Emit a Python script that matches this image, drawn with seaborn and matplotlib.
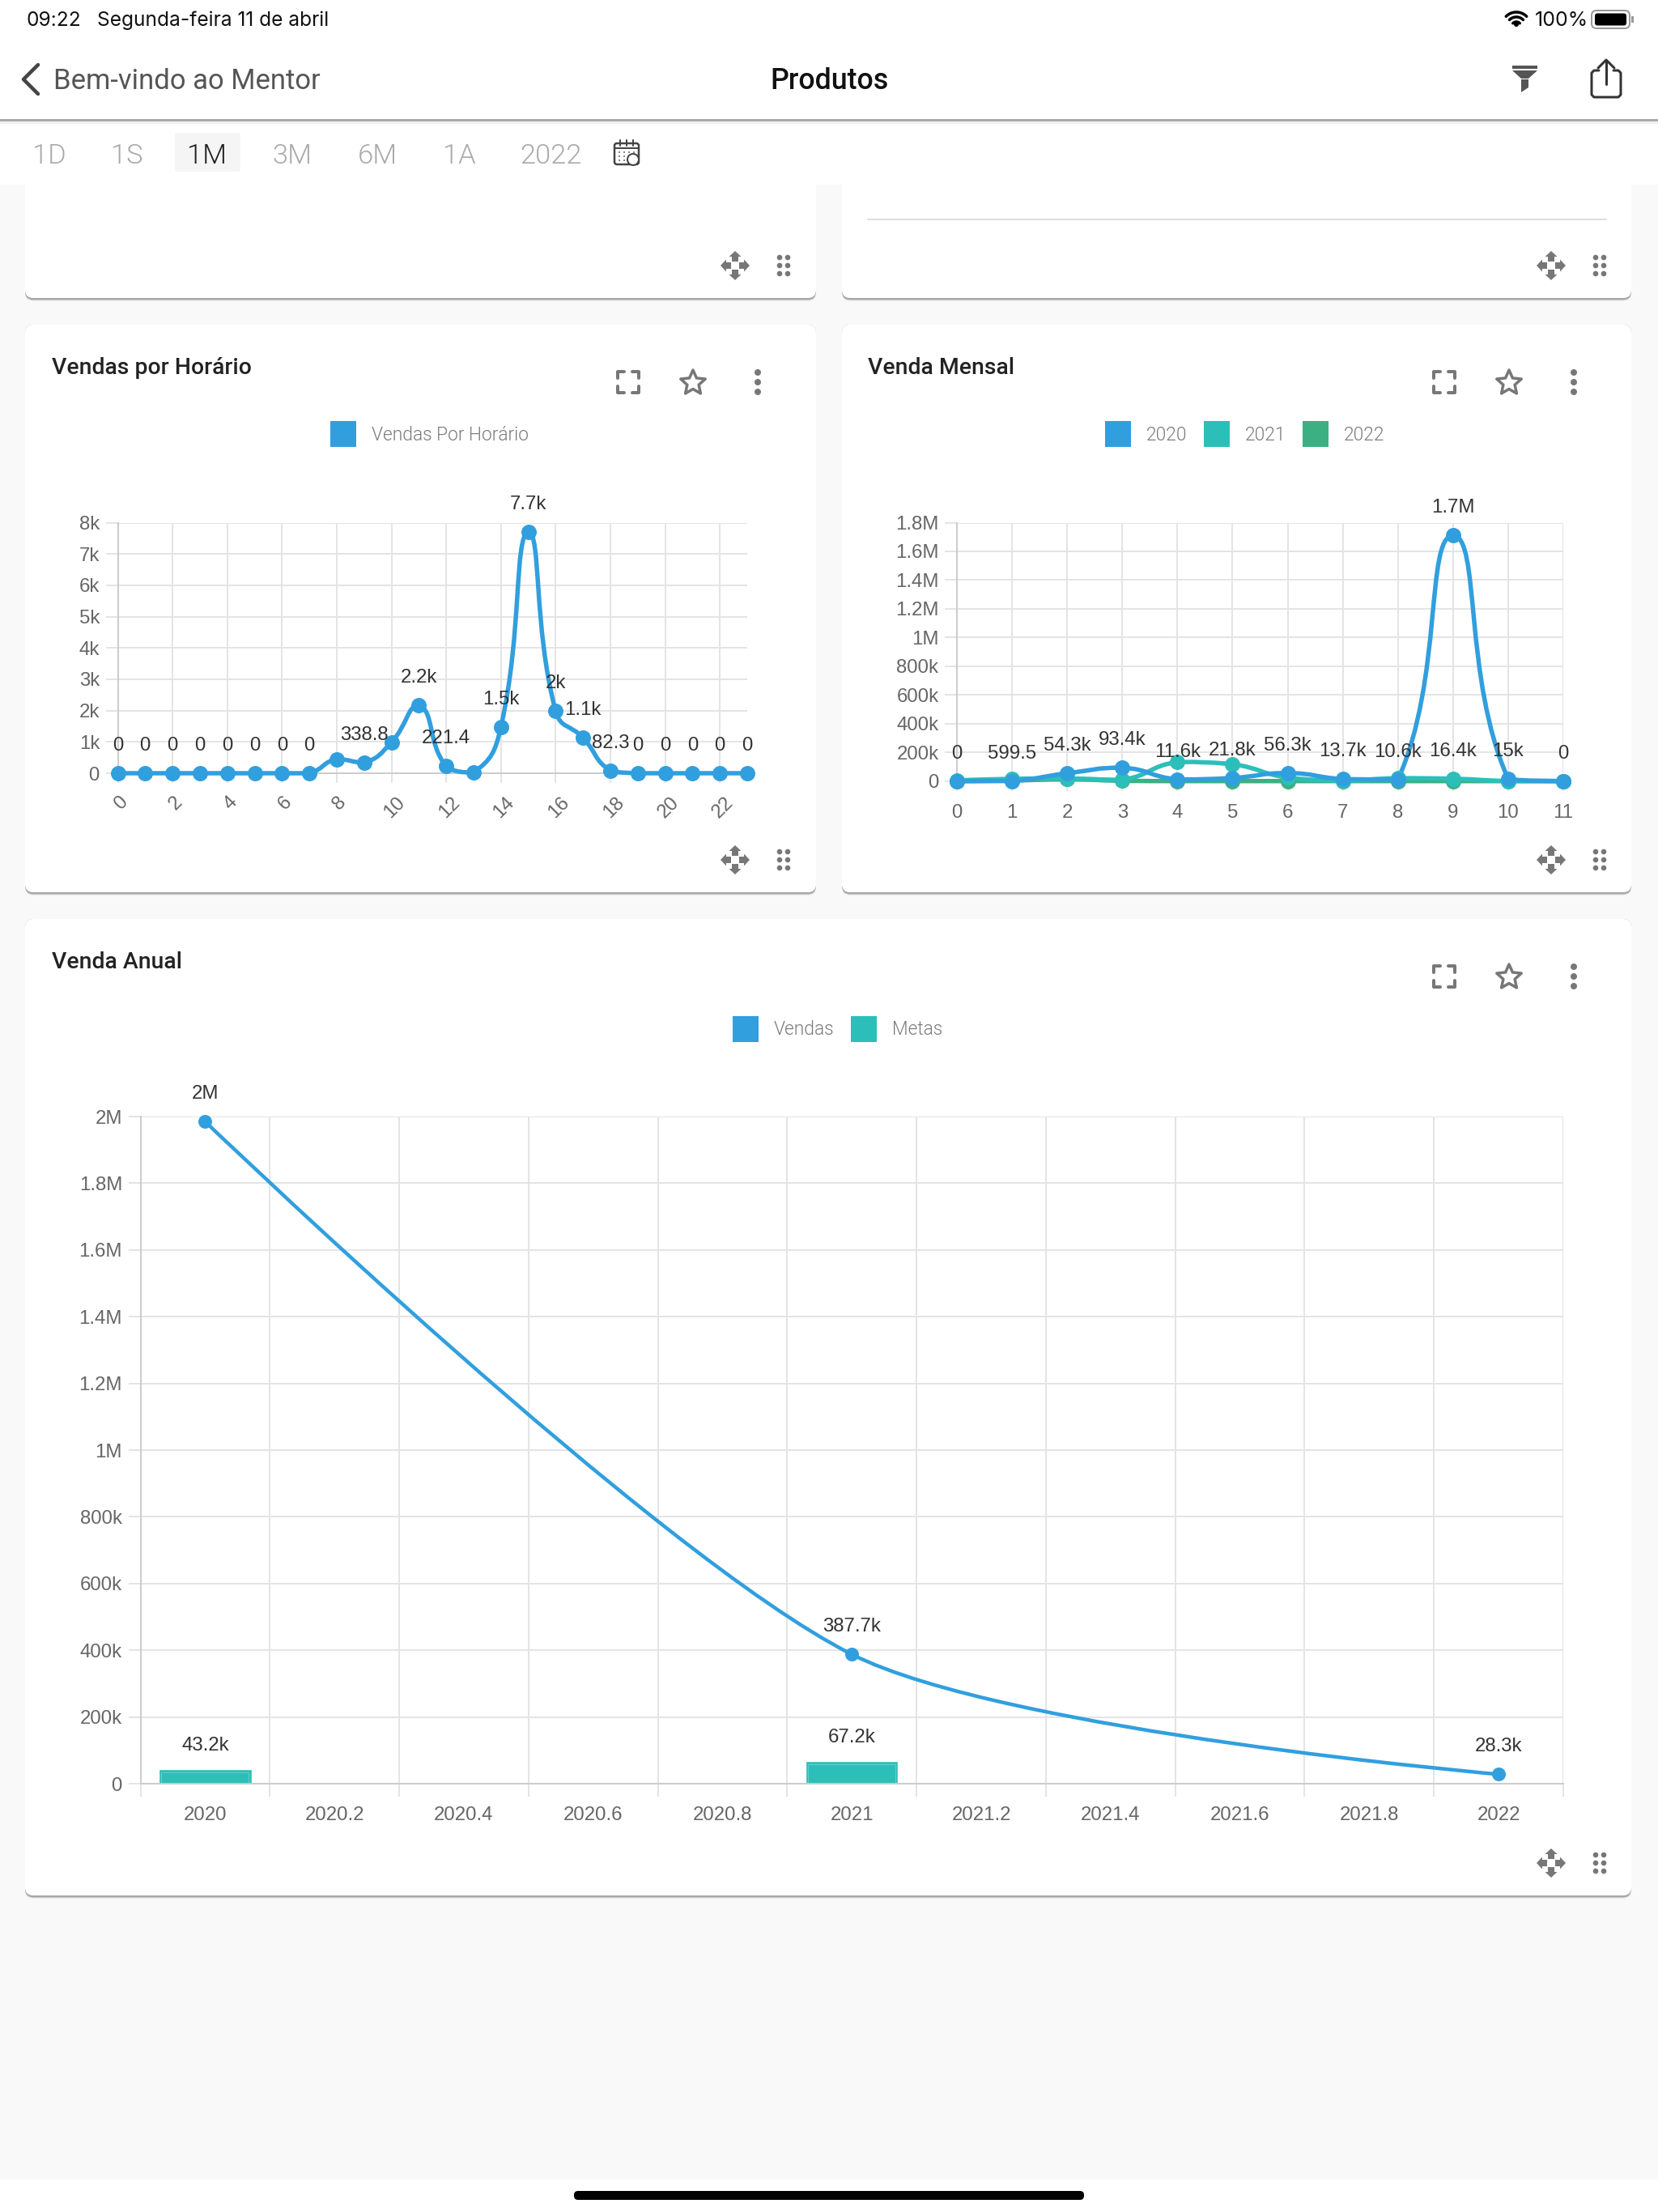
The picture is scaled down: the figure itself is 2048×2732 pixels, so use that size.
import numpy as np
import pandas as pd
import matplotlib
matplotlib.use("Agg")
import matplotlib.pyplot as plt
import seaborn as sns
from matplotlib.patches import FancyBboxPatch, Rectangle, Polygon, PathPatch, Circle
from matplotlib.path import Path
from matplotlib.transforms import ScaledTranslation

# === DATA ===
hours = list(range(24))
hour_sales = [0, 0, 0, 0, 0, 0, 0, 0, 450, 338.8, 990, 2180, 221.4, 25, 1480, 7700, 1980, 1130, 82.3, 0, 0, 0, 0, 0]
hour_labels = ["0", "0", "0", "0", "0", "0", "0", "0", "", "338.8", "", "2.2k", "221.4", "", "1.5k", "7.7k",
               "2k", "1.1k", "82.3", "0", "0", "0", "0", "0"]
hour_yticks = [0, 1000, 2000, 3000, 4000, 5000, 6000, 7000, 8000]
hour_ylabels = ["0", "1k", "2k", "3k", "4k", "5k", "6k", "7k", "8k"]

months = list(range(12))
month_2020 = [0, 599.5, 54300, 93400, 11600, 21800, 56300, 13700, 10600, 1710000, 15000, 0]
month_2021 = [4000, 16000, 18000, 9000, 133000, 118000, 24000, 5000, 20000, 16400, 0, 0]
month_2022 = [0, 4000, 13000, 2000, 0, 0, 0, 0, 0, 0, 0, 0]
month_labels = ["0", "599.5", "54.3k", "93.4k", "11.6k", "21.8k", "56.3k", "13.7k", "10.6k", "1.7M", "15k", "0"]
month_yticks = [0, 200000, 400000, 600000, 800000, 1000000, 1200000, 1400000, 1600000, 1800000]
month_ylabels = ["0", "200k", "400k", "600k", "800k", "1M", "1.2M", "1.4M", "1.6M", "1.8M"]

year_ticks = ["2020", "2020.2", "2020.4", "2020.6", "2020.8", "2021", "2021.2", "2021.4", "2021.6", "2021.8", "2022"]
sales_years = ["2020", "2021", "2022"]
sales_values = [1985000, 387700, 28300]
sales_labels = ["2M", "387.7k", "28.3k"]
goal_years = ["2020", "2021"]
goal_values = [43200, 67200]
goal_labels = ["43.2k", "67.2k"]
year_yticks = [0, 200000, 400000, 600000, 800000, 1000000, 1200000, 1400000, 1600000, 1800000, 2000000]
year_ylabels = ["0", "200k", "400k", "600k", "800k", "1M", "1.2M", "1.4M", "1.6M", "1.8M", "2M"]

# === STYLE ===
W, H = 2048, 2732
PX = 0.72  # px -> pt at dpi 100
BLUE, TEAL, GREEN = "#319fde", "#2cbfb9", "#3cb083"
ICON = "#777777"
CHART_FONT = "Liberation Sans"

sns.set_theme(style="whitegrid")
plt.rcParams["font.family"] = ["Roboto", "DejaVu Sans"]

fig = plt.figure(figsize=(W / 100, H / 100), dpi=100, facecolor="#f9f9f9")
ui = fig.add_axes([0, 0, 1, 1], zorder=0)
ui.set_xlim(0, W)
ui.set_ylim(H, 0)
ui.axis("off")


def axes_px(left, top, right, bottom):
    ax = fig.add_axes([left / W, 1 - bottom / H, (right - left) / W, (bottom - top) / H], zorder=2)
    ax.set_facecolor("none")
    return ax


def label(x, y, s, size, color="#333333", ha="left", weight=400, family="Roboto", z=5):
    ui.text(x, y + 2, s, fontsize=size * PX, color=color, ha=ha, va="center", fontweight=weight, family=family, zorder=z)


def box(x0, y0, x1, y1, color, r=10, z=1):
    ui.add_patch(FancyBboxPatch((x0, y0), x1 - x0, y1 - y0, boxstyle=f"round,pad=0,rounding_size={r}",
                                fc=color, ec="none", zorder=z))


def card(x0, y0, x1, y1):
    box(x0, y0, x1, y1 + 4, "#ececec")
    box(x0, y0, x1, y1 + 2.5, "#a8a8a8")
    box(x0, y0, x1, y1, "white")


def move_icon(cx, cy):
    for a, b in [(0, -1), (0, 1), (-1, 0), (1, 0)]:
        # arrow pointing outwards, head + stem
        ui.add_patch(Polygon([(cx + a * 18, cy + b * 18),
                              (cx + a * 11 - b * 7.5, cy + b * 11 + a * 7.5),
                              (cx + a * 11 + b * 7.5, cy + b * 11 - a * 7.5)], fc=ICON, ec="none", zorder=3))
        ui.add_patch(Polygon([(cx + a * 11 - b * 4, cy + b * 11 + a * 4),
                              (cx + a * 11 + b * 4, cy + b * 11 - a * 4),
                              (cx + a * 5 + b * 4, cy + b * 5 - a * 4),
                              (cx + a * 5 - b * 4, cy + b * 5 + a * 4)], fc=ICON, ec="none", zorder=3))
    for dx in (-5, 5):
        for dy in (-10, 0, 10):
            ui.add_patch(Circle((cx + 60 + dx, cy + dy), 3.3, fc=ICON, ec="none", zorder=3))


def top_icons(x_expand, x_star, x_dots, cy):
    for sx in (-1, 1):
        for sy in (-1, 1):
            ui.plot([x_expand + sx * 13, x_expand + sx * 13, x_expand + sx * 5],
                    [cy + sy * 5, cy + sy * 13, cy + sy * 13], color=ICON, lw=4 * PX, zorder=3,
                    solid_joinstyle="round")
    ang = np.deg2rad(np.arange(0, 360, 36) - 90)
    rad = np.where(np.arange(10) % 2 == 0, 16, 7.5)
    ui.add_patch(Polygon(np.column_stack([x_star + rad * np.cos(ang), cy + 1 + rad * np.sin(ang)]),
                         fc="white", ec=ICON, lw=3.5 * PX, joinstyle="round", zorder=3))
    for dy in (-12, 0, 12):
        ui.add_patch(Circle((x_dots, cy + dy), 4, fc=ICON, ec="none", zorder=3))


def legend_item(x, y, text, color):
    ui.add_patch(Rectangle((x, y - 16), 32, 32, fc=color, ec="none", zorder=3))
    label(x + 51, y - 1, text, 22.7, "#7b7b7b", weight=300)


def smooth_line(ax, xs, ys, color, lw, smooth=0.5, z=3):
    # bezier through the points, same idea as the chart library in the app
    pts = ax.transData.transform(np.column_stack([xs, ys]))
    verts, codes = [pts[0]], [Path.MOVETO]
    for i in range(len(pts) - 1):
        cur, nxt = pts[i], pts[i + 1]
        before = pts[i - 1] if i > 0 else cur
        after = pts[i + 2] if i + 2 < len(pts) else nxt
        l0, l1, l2 = np.linalg.norm(cur - before), np.linalg.norm(nxt - cur), np.linalg.norm(after - nxt)
        cp1 = cur + (nxt - before) * smooth * (l1 / (l0 + l1)) if i > 0 else cur
        cp2 = nxt - (after - cur) * smooth * (l1 / (l1 + l2)) if i + 2 < len(pts) else nxt
        lo, hi = np.minimum(cur, nxt), np.maximum(cur, nxt)
        verts += [np.clip(cp1, lo, hi), np.clip(cp2, lo, hi), nxt]
        codes += [Path.CURVE4] * 3
    path = Path(ax.transData.inverted().transform(np.array(verts)), codes)
    ax.add_patch(PathPatch(path, fc="none", ec=color, lw=lw * PX, zorder=z, clip_on=False, capstyle="round"))


def line_series(ax, xs, ys, color, lw=5.5, dot=19, z=3, smooth=0.5):
    smooth_line(ax, xs, ys, color, lw, smooth=smooth, z=z)
    frame = pd.DataFrame({"x": xs, "y": ys})
    sns.scatterplot(data=frame, x="x", y="y", ax=ax, color=color, s=(dot * PX) ** 2, linewidth=0,
                    clip_on=False, zorder=z + 0.5, legend=False)


def value_labels(ax, xs, ys, texts, offset=34):
    for x, y, s in zip(xs, ys, texts):
        if s:
            ax.annotate(s, (x, y), xytext=(0, offset * PX), textcoords="offset points", ha="center", va="center",
                        fontsize=24 * PX, color="#333333", family=CHART_FONT, zorder=6, annotation_clip=False)


def style_axes(ax, xlim, yticks, ylabels):
    ax.set_xlim(*xlim)
    ax.set_ylim(yticks[0], yticks[-1])
    ax.set_yticks(yticks, ylabels)
    ax.set_xlabel("")
    ax.set_ylabel("")
    ax.grid(True, axis="y", color="#e4e4e4", linewidth=2 * PX)
    ax.grid(True, axis="x", color="#dedede", linewidth=1.6 * PX)
    ax.set_axisbelow(True)
    ax.tick_params(axis="y", length=15 * PX, width=2 * PX, color="#e4e4e4", pad=7.5 * PX, labelsize=24 * PX,
                   labelcolor="#666666", left=True)
    ax.tick_params(axis="x", length=12 * PX, width=1.6 * PX, color="#dedede", labelsize=24 * PX,
                   labelcolor="#666666", bottom=True)
    for tick in ax.get_yticklabels():
        tick.set_family(CHART_FONT)
    for side in ("top", "right"):
        ax.spines[side].set_visible(False)
    for side in ("left", "bottom"):
        ax.spines[side].set_color("#cccccc")
        ax.spines[side].set_linewidth(2 * PX)


# === CARDS ===
ui.add_patch(Rectangle((0, 2692), W, 40, fc="white", ec="none", zorder=0.5))
card(31, 180, 1008, 368)
card(1040, 180, 2015, 368)
card(31, 401, 1008, 1102)
card(1040, 401, 2015, 1102)
card(31, 1135, 2015, 2341)
ui.plot([1072, 1984], [271, 271], color="#dedede", lw=2 * PX, zorder=2)

# === HEADER ===
ui.add_patch(Rectangle((0, 0), W, 228, fc="white", ec="none", zorder=4))
ui.add_patch(Rectangle((0, 147), W, 2.5, fc="#aaaaaa", ec="none", zorder=4.1))
ui.add_patch(Rectangle((0, 149.5), W, 3, fc="#f0f0f0", ec="none", zorder=4.1))

label(32, 23, "09:22", 24.5, "#111111", family="Inter")
label(120, 23, "Segunda-feira 11 de abril", 24.5, "#111111", family="Inter")
label(1896, 23, "100%", 25, "#111111", family="Inter")
for rad in (6, 12, 18):
    t = np.deg2rad(np.linspace(-135, -45, 30))
    ui.plot(1873 + rad * np.cos(t), 33 + rad * np.sin(t), color="black", lw=3.5 * PX, zorder=5)
ui.add_patch(Circle((1873, 30), 3, fc="black", ec="none", zorder=5))
ui.add_patch(FancyBboxPatch((1966, 13), 47, 22, boxstyle="round,pad=0,rounding_size=6", fc="white", ec="#999999",
                            lw=2 * PX, zorder=5))
ui.add_patch(FancyBboxPatch((1970, 16.5), 39, 15, boxstyle="round,pad=0,rounding_size=3", fc="black", ec="none",
                            zorder=5.1))
ui.add_patch(Rectangle((2015, 20), 2.5, 8, fc="#999999", ec="none", zorder=5))

ui.plot([47, 29, 47], [80, 98, 116], color="#444444", lw=4.5 * PX, zorder=5)
label(66, 98.5, "Bem-vindo ao Mentor", 34.7, "#555555")
label(1024, 98.5, "Produtos", 35.7, "#111111", ha="center", weight=500)

ui.add_patch(Rectangle((1868, 81), 31, 4, fc="#555555", ec="none", zorder=5))
ui.add_patch(Polygon([(1868, 87), (1899, 87), (1888, 97), (1879, 97)], fc="#555555", ec="none", zorder=5))
ui.add_patch(Polygon([(1879, 98), (1888, 98), (1888, 108), (1879, 114)], fc="#555555", ec="none", zorder=5))

ui.plot([1975, 1969, 1966, 1966, 1969, 1999, 2002, 2002, 1999, 1993],
        [87, 87, 90, 117, 120, 120, 117, 90, 87, 87], color="#333333", lw=3 * PX, zorder=5)
ui.plot([1984, 1984], [75, 104], color="#333333", lw=3 * PX, zorder=5)
ui.plot([1974, 1984, 1994], [84, 74, 84], color="#333333", lw=3 * PX, zorder=5)

ui.add_patch(FancyBboxPatch((216, 164), 81, 48, boxstyle="round,pad=0,rounding_size=4", fc="#f5f5f5", ec="none",
                            zorder=4.5))
tabs = ["1D", "1S", "1M", "3M", "6M", "1A", "2022"]
tab_x = [61, 157, 256, 361, 466, 567, 680]
for tx, name in zip(tab_x, tabs):
    label(tx, 190.5, name, 34.5, "#222222" if name == "1M" else "#aaaaaa", ha="center", weight=300)

ui.add_patch(FancyBboxPatch((759, 177), 30, 26, boxstyle="round,pad=0,rounding_size=3", fc="white", ec="#444444",
                            lw=2.5 * PX, zorder=5))
ui.plot([759, 789], [183, 183], color="#444444", lw=2 * PX, zorder=5.1)
for cx in (766, 774, 782):
    ui.plot([cx, cx], [173, 180], color="#444444", lw=2 * PX, zorder=5.1)
for cx in (765, 771, 777, 783):
    for cy in (188, 193, 198):
        ui.add_patch(Circle((cx, cy), 0.9, fc="#444444", ec="none", zorder=5.1))
ui.add_patch(Circle((782, 197), 7, fc="white", ec="#444444", lw=2 * PX, zorder=5.2))

# === CARD CHROME ===
label(64, 452, "Vendas por Horário", 28.4, "#222222", weight=500, z=3)
label(1072, 452, "Venda Mensal", 28.4, "#222222", weight=500, z=3)
label(64, 1186, "Venda Anual", 28.4, "#222222", weight=500, z=3)

top_icons(776, 856, 936, 472)
top_icons(1784, 1864, 1944, 472)
top_icons(1784, 1864, 1944, 1206)
move_icon(908, 328)
move_icon(1916, 328)
move_icon(908, 1062)
move_icon(1916, 1062)
move_icon(1916, 2301)

legend_item(408, 536, "Vendas Por Horário", BLUE)
legend_item(1365, 536, "2020", BLUE)
legend_item(1487, 536, "2021", TEAL)
legend_item(1609, 536, "2022", GREEN)
legend_item(905, 1271, "Vendas", BLUE)
legend_item(1051, 1271, "Metas", TEAL)

# === VENDAS POR HORARIO ===
ax1 = axes_px(145.5, 645.5, 923, 955)
style_axes(ax1, (0, 23), hour_yticks, hour_ylabels)
line_series(ax1, hours, hour_sales, BLUE)
style_axes(ax1, (0, 23), hour_yticks, hour_ylabels)
ax1.set_xticks(hours[::2], [str(h) for h in hours[::2]], rotation=45, ha="center")
ax1.tick_params(axis="x", pad=13 * PX)
nudge = ScaledTranslation(4 / 100, 0, fig.dpi_scale_trans)
for tick in ax1.get_xticklabels():
    tick.set_family(CHART_FONT)
    tick.set_transform(tick.get_transform() + nudge)
value_labels(ax1, hours, hour_sales, hour_labels)

# === VENDA MENSAL ===
ax2 = axes_px(1182, 645.5, 1931, 964.7)
style_axes(ax2, (0, 11), month_yticks, month_ylabels)
line_series(ax2, months, month_2022, GREEN, z=3)
line_series(ax2, months, month_2021, TEAL, z=3.2)
line_series(ax2, months, month_2020, BLUE, z=3.4)
style_axes(ax2, (0, 11), month_yticks, month_ylabels)
ax2.set_xticks(months, [str(m) for m in months])
ax2.tick_params(axis="x", pad=16 * PX)
for tick in ax2.get_xticklabels():
    tick.set_family(CHART_FONT)
value_labels(ax2, months, month_2020, month_labels)
value_labels(ax2, [9], [month_2021[9]], ["16.4k"])

# === VENDA ANUAL ===
ax3 = axes_px(173.5, 1379, 1931, 2203)
goal_by_year = dict(zip(goal_years, goal_values))
goal_frame = pd.DataFrame({"ano": year_ticks, "meta": [goal_by_year.get(y, np.nan) for y in year_ticks]})
sns.barplot(data=goal_frame, x="ano", y="meta", order=year_ticks, color=TEAL, saturation=1, width=0.715, ax=ax3, zorder=2)
sales_pos = [year_ticks.index(y) for y in sales_years]
goal_pos = [year_ticks.index(y) for y in goal_years]
style_axes(ax3, (-0.5, 10.5), year_yticks, year_ylabels)
ax3.set_xticks(np.arange(-0.5, 11, 1), minor=True)
ax3.set_xticks(range(11), year_ticks)
for tick in ax3.get_xticklabels():
    tick.set_family(CHART_FONT)
ax3.tick_params(axis="x", which="major", length=0, pad=28 * PX)
ax3.tick_params(axis="x", which="minor", length=16 * PX, width=1.6 * PX, color="#dedede", bottom=True)
ax3.grid(False, axis="x", which="major")
ax3.grid(True, axis="x", which="minor", color="#dedede", linewidth=1.6 * PX)
for bar in list(ax3.patches):
    if bar.get_height() > 0:
        x0, w, h = bar.get_x(), bar.get_width(), bar.get_height()
        ax3.add_patch(Rectangle((x0 + 0.02, 0), w - 0.04, h - 10000, fc="none", ec="#5fd0cb", lw=1 * PX, zorder=2.1))
line_series(ax3, sales_pos, sales_values, BLUE, lw=4.5, dot=17, smooth=0.27)
ax3.set_xlim(-0.5, 10.5)
ax3.set_ylim(0, 2000000)
ax3.set_xlabel("")
ax3.set_ylabel("")
value_labels(ax3, sales_pos, sales_values, sales_labels)
value_labels(ax3, goal_pos, goal_values, goal_labels, offset=29)

# === HOME BAR ===
ui.add_patch(FancyBboxPatch((709, 2706), 630, 11, boxstyle="round,pad=0,rounding_size=5", fc="black", ec="none", zorder=3))

fig.savefig("out.png", dpi=100, facecolor=fig.get_facecolor())
plt.close(fig)
